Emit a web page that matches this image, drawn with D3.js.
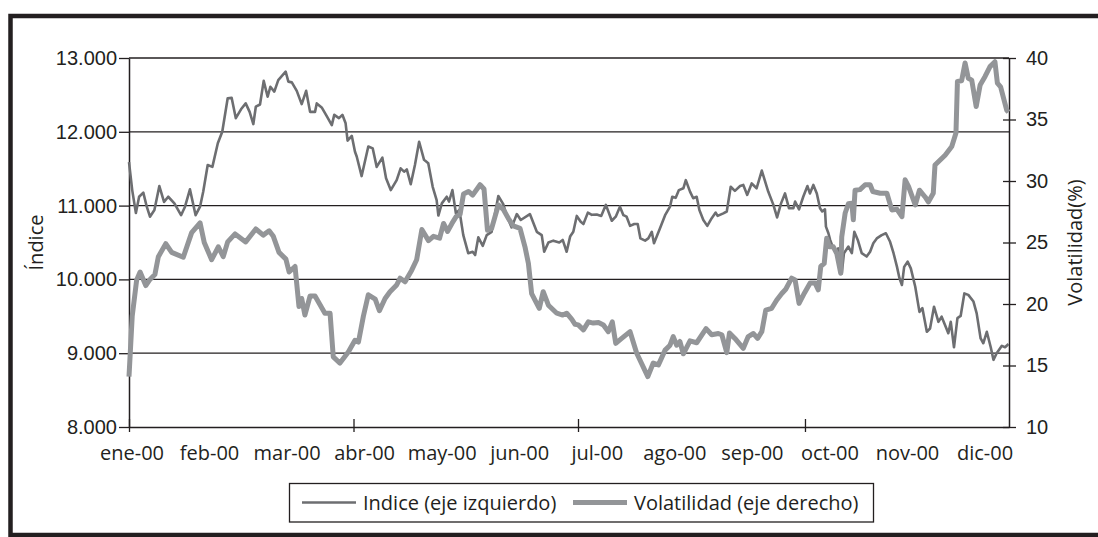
<!DOCTYPE html>
<html lang="es">
<head>
<meta charset="UTF-8">
<title>Indice y volatilidad 2000</title>
<style>
  body { margin: 0; background: #fff; }
  svg { display: block; font-family: "Open Sans", Lato, sans-serif; }
</style>
</head>
<body>
<div id="chart"></div>
<script src="https://d3js.org/d3.v7.min.js"></script>
<script>
// days since 1 Jan 2000 and index level (left axis)
const indexDays = [0, 1.3, 2.8, 4.1, 5.8, 7.2, 8.5, 10.3, 12.3, 14.2, 15.9, 18.4, 21.1, 22.7, 24.7, 27.0, 28.8, 30.1, 31.9, 33.8,
  36.0, 37.8, 40.0, 41.6, 43.3, 45.4, 47.3, 48.9, 50.4, 51.4, 53.1, 54.6, 56.2, 57.3, 58.9, 60.5, 63.5, 64.6, 66.0, 68.0,
  70.0, 71.8, 73.4, 75.4, 76.1, 78.1, 80.1, 82.2, 83.2, 85.1, 86.5, 87.8, 88.6, 90.3, 91.6, 92.3, 94.3, 97.0, 98.8, 100.4,
  102.7, 104.2, 106.1, 108.5, 110.1, 111.5, 112.6, 114.2, 115.9, 117.6, 119.6, 121.3, 123.1, 124.7, 125.4, 126.8, 128.8, 129.7, 131.1, 132.5,
  133.9, 135.5, 137.5, 139.3, 140.3, 141.6, 143.4, 145.0, 147.0, 149.7, 151.7, 153.1, 155.1, 157.2, 158.8, 162.5, 165.3, 167.3, 168.3, 170.0,
  172.0, 174.4, 175.8, 177.4, 178.8, 180.1, 181.5, 183.1, 184.2, 186.0, 187.6, 189.6, 191.4, 193.3, 195.7, 197.3, 199.0, 200.4, 201.7, 203.1,
  204.8, 206.2, 207.3, 209.2, 210.5, 211.9, 212.8, 215.2, 217.3, 219.3, 220.2, 221.6, 222.9, 224.7, 225.7, 227.4, 228.7, 230.1, 231.2, 232.8,
  234.4, 236.2, 237.8, 238.6, 240.9, 242.3, 243.9, 245.6, 247.7, 249.0, 250.6, 252.4, 254.4, 256.5, 259.1, 261.2, 262.7, 264.3, 265.9, 267.5,
  269.3, 270.0, 271.6, 273.3, 275.0, 276.0, 277.4, 278.8, 280.1, 281.0, 282.1, 282.5, 283.5, 284.2, 285.5, 286.6, 287.5, 288.9, 289.8, 291.6,
  293.0, 294.0, 295.4, 297.0, 299.0, 300.4, 301.7, 303.1, 305.1, 306.8, 308.5, 309.9, 311.3, 312.3, 313.3, 314.2, 315.6, 316.9, 318.7, 320.4,
  321.6, 323.4, 324.7, 326.3, 328.1, 329.4, 330.8, 332.1, 333.1, 334.4, 335.8, 337.1, 338.6, 340.2, 342.3, 343.6, 345.2, 346.3, 347.7, 349.3,
  350.4, 351.7, 353.8, 355.1, 356.5];
const indexVals = [11590, 11210, 10900, 11120, 11175, 10985, 10850, 10940, 11265, 11050, 11120, 11030, 10870, 10985, 11220, 10870, 10985, 11190, 11550, 11525,
  11845, 12000, 12455, 12460, 12185, 12305, 12385, 12270, 12105, 12340, 12370, 12690, 12475, 12610, 12545, 12700, 12815, 12680, 12670, 12555,
  12375, 12555, 12270, 12270, 12385, 12330, 12215, 12090, 12230, 12185, 12230, 12115, 11880, 11945, 11730, 11665, 11400, 11800, 11775, 11525,
  11650, 11370, 11210, 11345, 11505, 11460, 11490, 11290, 11550, 11865, 11620, 11575, 11255, 11075, 10865, 11030, 11120, 11055, 11210, 10895,
  10940, 10600, 10355, 10375, 10330, 10570, 10455, 10600, 10645, 11130, 11020, 10860, 10705, 10885, 10805, 10885, 10645, 10600, 10375, 10500,
  10525, 10500, 10535, 10375, 10580, 10645, 10860, 10780, 10750, 10905, 10875, 10880, 10860, 11010, 10795, 10850, 10985, 10870, 10850, 10725,
  10750, 10750, 10555, 10525, 10555, 10645, 10490, 10690, 10870, 10985, 11120, 11105, 11210, 11235, 11345, 11190, 11100, 11120, 10940, 10805,
  10725, 10830, 10905, 10860, 10895, 10920, 11255, 11200, 11265, 11280, 11145, 11300, 11235, 11475, 11190, 11010, 10840, 11030, 11165, 10965,
  10965, 11055, 10950, 11120, 11265, 11165, 11280, 11165, 10965, 10920, 10950, 10715, 10625, 10535, 10420, 10355, 10420, 10080, 10355, 10445,
  10355, 10645, 10535, 10355, 10310, 10375, 10490, 10555, 10600, 10625, 10510, 10355, 10170, 10015, 9925, 10170, 10240, 10150, 9900, 9560,
  9610, 9290, 9335, 9630, 9425, 9495, 9380, 9270, 9425, 9080, 9475, 9505, 9810, 9790, 9700, 9540, 9200, 9135, 9290, 9080,
  8910, 9000, 9100, 9080, 9125];

// days since 1 Jan 2000 and volatility in % (right axis)
const volDays = [0, 1.3, 3.1, 4.5, 6.8, 8.5, 10.5, 11.9, 14.9, 17.3, 22.0, 25.4, 28.8, 30.5, 33.5, 36.2, 38.2, 40.0, 43.0, 47.3,
  51.4, 54.4, 56.8, 58.5, 60.8, 63.6, 64.9, 67.3, 68.9, 70.0, 71.3, 73.4, 75.4, 79.4, 81.5, 82.8, 85.5, 88.9, 91.6, 93.0,
  95.0, 97.0, 99.8, 101.5, 103.8, 105.8, 108.5, 109.9, 111.9, 114.6, 116.6, 118.7, 121.4, 123.4, 125.9, 127.5, 129.1, 130.9, 132.6, 134.2,
  135.6, 137.6, 139.3, 142.3, 143.9, 145.3, 147.0, 149.7, 151.7, 153.8, 155.8, 158.5, 160.5, 161.9, 163.2, 166.3, 167.9, 170.0, 173.4, 175.8,
  177.4, 179.5, 180.8, 182.1, 184.2, 186.2, 188.2, 190.3, 192.3, 194.3, 195.9, 197.3, 199.7, 203.1, 205.8, 210.3, 212.5, 214.6, 217.3, 219.3,
  220.6, 222.0, 223.3, 224.7, 227.4, 230.1, 233.9, 236.2, 238.9, 240.3, 242.3, 243.4, 245.6, 249.0, 251.0, 253.1, 254.8, 256.5, 258.1, 260.5,
  262.5, 264.6, 266.2, 268.6, 270.0, 271.6, 273.8, 276.1, 278.1, 279.4, 280.4, 281.8, 282.8, 283.9, 285.5, 286.9, 288.5, 288.9, 290.3, 291.6,
  293.0, 293.6, 294.3, 296.3, 298.4, 300.4, 301.5, 304.5, 307.2, 309.2, 311.3, 313.3, 314.6, 316.0, 318.7, 320.4, 322.7, 324.0, 326.0, 326.7,
  330.8, 333.5, 335.2, 335.8, 337.5, 338.9, 340.2, 341.6, 343.4, 345.0, 347.0, 349.0, 351.0, 352.0, 353.3, 355.8, 356.5];
const volVals = [14.1, 19.0, 21.95, 22.6, 21.5, 22.0, 22.4, 23.85, 24.9, 24.2, 23.8, 25.8, 26.6, 25.0, 23.6, 24.65, 23.85, 25.05, 25.7, 25.05,
  26.1, 25.6, 25.95, 25.5, 24.2, 23.65, 22.6, 23.05, 19.8, 20.45, 19.1, 20.65, 20.65, 19.25, 19.25, 15.7, 15.2, 16.1, 17.05, 16.9,
  19.0, 20.75, 20.4, 19.45, 20.45, 21.0, 21.55, 22.1, 21.8, 22.75, 23.6, 26.05, 25.15, 25.5, 25.35, 26.55, 25.9, 26.55, 27.1, 27.3,
  28.95, 29.15, 28.85, 29.7, 29.35, 26.0, 26.15, 28.05, 27.7, 26.95, 26.35, 26.15, 24.65, 23.3, 20.85, 19.65, 21.0, 19.9, 19.25, 19.1,
  19.25, 18.75, 18.35, 18.3, 17.9, 18.55, 18.45, 18.5, 18.3, 17.75, 18.55, 16.8, 17.2, 17.75, 16.0, 14.1, 15.2, 15.05, 16.25, 16.65,
  17.35, 16.65, 16.95, 15.95, 17.0, 16.85, 18.0, 17.5, 17.6, 17.5, 16.05, 17.65, 17.2, 16.4, 17.35, 17.6, 17.2, 17.75, 19.5, 19.65,
  20.3, 20.85, 21.2, 22.1, 21.95, 20.05, 20.9, 21.7, 21.7, 21.15, 23.05, 23.3, 25.35, 24.65, 24.65, 24.1, 22.5, 25.45, 27.4, 28.15,
  28.2, 26.85, 29.25, 29.3, 29.7, 29.7, 29.15, 29.0, 29.0, 27.65, 27.7, 27.1, 30.1, 29.55, 28.05, 29.25, 28.7, 28.3, 29.0, 31.3,
  32.1, 32.8, 33.9, 38.1, 38.15, 39.6, 38.35, 38.2, 36.05, 37.8, 38.5, 39.3, 39.7, 37.95, 37.65, 35.75, 35.6];

const monthLabels = ["ene-00", "feb-00", "mar-00", "abr-00", "may-00", "jun-00",
  "jul-00", "ago-00", "sep-00", "oct-00", "nov-00", "dic-00"];
const leftTicks = [8000, 9000, 10000, 11000, 12000, 13000];
const rightTicks = [10, 15, 20, 25, 30, 35, 40];
const gridTicks = [9000, 10000, 11000, 12000, 13000];
const quarterMonths = [0, 3, 6, 9];
const lastDay = 356.7;

const W = 1098, H = 537;
const plot = { left: 129, right: 1009, top: 58, bottom: 427 };
const ink = "#231f20";
const indexColor = "#6d6e71";
const volColor = "#939598";
const fontSize = "20px";

const t0 = Date.UTC(2000, 0, 1);
const dayToDate = d => new Date(t0 + d * 864e5);

const es = d3.formatLocale({ decimal: ",", thousands: ".", grouping: [3], currency: ["", " €"] });
const fmtThousands = es.format(",");

const svg = d3.select("#chart").append("svg")
  .attr("width", W)
  .attr("height", H);

// outer frame (open on the right, like the scan)
svg.append("path")
  .attr("d", `M${W + 5},16 H10.5 V535 H${W + 5}`)
  .attr("fill", "none")
  .attr("stroke", ink)
  .attr("stroke-width", 4.5);

const x = d3.scaleUtc()
  .domain([dayToDate(0), dayToDate(lastDay)])
  .range([plot.left, plot.right]);
const yL = d3.scaleLinear().domain([8000, 13000]).range([plot.bottom, plot.top]);
const yR = d3.scaleLinear().domain([10, 40]).range([plot.bottom, plot.top]);
const xLabel = d3.scalePoint().domain(monthLabels).range([132, 985]);

// gridlines
svg.append("g").selectAll("line")
  .data(gridTicks)
  .join("line")
  .attr("x1", plot.left).attr("x2", plot.right)
  .attr("y1", d => yL(d)).attr("y2", d => yL(d))
  .attr("stroke", ink)
  .attr("stroke-width", 1.3);

// left axis
const gL = svg.append("g")
  .attr("transform", `translate(${plot.left},0)`)
  .call(d3.axisLeft(yL).tickValues(leftTicks).tickFormat(fmtThousands)
    .tickSize(10).tickSizeOuter(0).tickPadding(2));

// right axis, ticks cross the line
const gR = svg.append("g")
  .attr("transform", `translate(${plot.right},0)`)
  .call(d3.axisRight(yR).tickValues(rightTicks).tickSize(7).tickSizeOuter(0).tickPadding(10));
gR.selectAll(".tick line").attr("x1", -6);

// bottom axis: quarterly ticks, monthly labels
const gB = svg.append("g")
  .attr("transform", `translate(0,${plot.bottom})`)
  .call(d3.axisBottom(x)
    .tickValues(quarterMonths.map(m => new Date(Date.UTC(2000, m, 1))))
    .tickSize(5).tickSizeOuter(0).tickFormat(""));
gB.selectAll(".tick line").attr("y1", -8);

[gL, gR, gB].forEach(g => {
  g.select(".domain").attr("stroke", ink).attr("stroke-width", 1.5);
  g.selectAll(".tick line").attr("stroke", ink).attr("stroke-width", 1.3);
  g.selectAll("text").attr("fill", ink).style("font-size", fontSize).style("font-family", null);
});

svg.append("g").selectAll("text")
  .data(monthLabels)
  .join("text")
  .attr("x", d => xLabel(d))
  .attr("y", 460)
  .attr("text-anchor", "middle")
  .attr("fill", ink)
  .style("font-size", fontSize)
  .text(d => d);

// axis titles
svg.append("text")
  .attr("transform", `translate(43,${(plot.top + plot.bottom) / 2}) rotate(-90)`)
  .attr("text-anchor", "middle")
  .attr("fill", ink)
  .style("font-size", fontSize)
  .text("Índice");
svg.append("text")
  .attr("transform", `translate(1082,${(plot.top + plot.bottom) / 2}) rotate(-90)`)
  .attr("text-anchor", "middle")
  .attr("fill", ink)
  .style("font-size", fontSize)
  .text("Volatilidad(%)");

// series
const indexData = indexDays.map((d, i) => ({ date: dayToDate(d), v: indexVals[i] }));
const volData = volDays.map((d, i) => ({ date: dayToDate(d), v: volVals[i] }));

svg.append("path")
  .datum(indexData)
  .attr("fill", "none")
  .attr("stroke", indexColor)
  .attr("stroke-width", 2.6)
  .attr("stroke-linejoin", "round")
  .attr("d", d3.line().x(d => x(d.date)).y(d => yL(d.v)));

svg.append("path")
  .datum(volData)
  .attr("fill", "none")
  .attr("stroke", volColor)
  .attr("stroke-width", 5)
  .attr("stroke-linejoin", "round")
  .attr("d", d3.line().x(d => x(d.date)).y(d => yR(d.v)));

// legend
const leg = svg.append("g");
leg.append("rect")
  .attr("x", 289.5).attr("y", 483.5)
  .attr("width", 584).attr("height", 38.5)
  .attr("fill", "#fff")
  .attr("stroke", ink)
  .attr("stroke-width", 1.3);
const legendItems = [
  { label: "Indice (eje izquierdo)", color: indexColor, width: 2.6, x: 302 },
  { label: "Volatilidad (eje derecho)", color: volColor, width: 5, x: 573 }
];
const li = leg.selectAll("g.item")
  .data(legendItems)
  .join("g")
  .attr("class", "item")
  .attr("transform", d => `translate(${d.x},502.5)`);
li.append("line")
  .attr("x1", 0).attr("x2", 54)
  .attr("stroke", d => d.color)
  .attr("stroke-width", d => d.width);
li.append("text")
  .attr("x", 61)
  .attr("dy", "0.35em")
  .attr("fill", ink)
  .style("font-size", fontSize)
  .text(d => d.label);
</script>
</body>
</html>
